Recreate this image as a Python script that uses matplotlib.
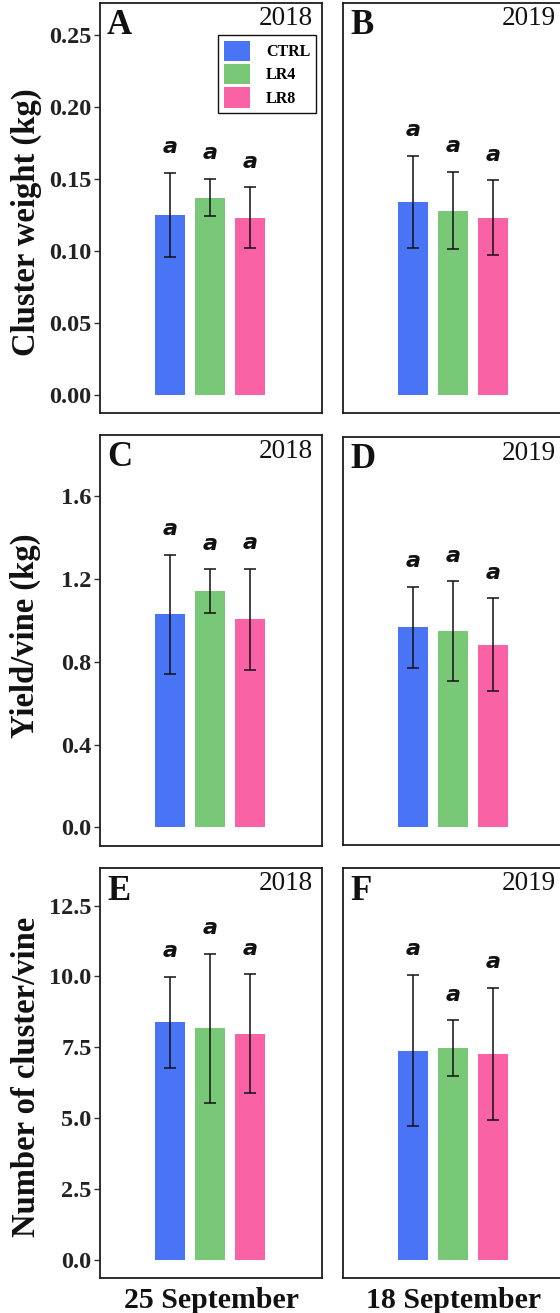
import matplotlib
matplotlib.use("Agg")
import matplotlib.pyplot as plt
from matplotlib.patches import Patch

# ---------------- data ----------------
treatments = ["CTRL", "LR4", "LR8"]
colors = ["#4a74f6", "#78c878", "#fa62a6"]

cw_2018 = [0.125, 0.137, 0.123]
cw_2018_err = [0.029, 0.013, 0.021]
cw_2019 = [0.134, 0.128, 0.123]
cw_2019_err = [0.032, 0.027, 0.026]

yv_2018 = [1.03, 1.14, 1.005]
yv_2018_err = [0.287, 0.106, 0.243]
yv_2019 = [0.97, 0.95, 0.885]
yv_2019_err = [0.197, 0.243, 0.225]

nc_2018 = [8.38, 8.17, 7.98]
nc_2018_err = [1.6, 2.62, 2.1]
nc_2019 = [7.38, 7.47, 7.27]
nc_2019_err = [2.67, 0.98, 2.32]

sig_letters = ["a", "a", "a"]

panel_letters = ["A", "B", "C", "D", "E", "F"]
years = ["2018", "2019"]
ylabels = ["Cluster weight (kg)", "Yield/vine (kg)", "Number of cluster/vine"]
xlabels = ["25 September", "18 September"]

row_ticks = [
    [0.00, 0.05, 0.10, 0.15, 0.20, 0.25],
    [0.0, 0.4, 0.8, 1.2, 1.6],
    [0.0, 2.5, 5.0, 7.5, 10.0, 12.5],
]
row_ticklabels = [
    ["0.00", "0.05", "0.10", "0.15", "0.20", "0.25"],
    ["0.0", "0.4", "0.8", "1.2", "1.6"],
    ["0.0", "2.5", "5.0", "7.5", "10.0", "12.5"],
]
row_ylim = [(-0.0125, 0.272), (-0.09, 1.895), (-0.646, 13.83)]

data = [
    [(cw_2018, cw_2018_err), (cw_2019, cw_2019_err)],
    [(yv_2018, yv_2018_err), (yv_2019, yv_2019_err)],
    [(nc_2018, nc_2018_err), (nc_2019, nc_2019_err)],
]

# ---------------- layout ----------------
W, H = 560, 1313
fig = plt.figure(figsize=(W / 100, H / 100), dpi=100)
serif = ["Liberation Serif", "DejaVu Serif"]

col_left = [100, 343]
ax_w = 222
row_top = [[3, 3], [435, 437], [868, 868]]
row_bot = [[413, 413], [846, 845], [1278, 1278]]
ylabel_pos = [(26, 222), (25, 636), (27, 1077)]

frame_col = "#1e1e1e"

for r in range(3):
    for c in range(2):
        l = col_left[c]
        t = row_top[r][c]
        b = row_bot[r][c]
        ax = fig.add_axes([l / W, 1 - b / H, ax_w / W, (b - t) / H])
        vals, errs = data[r][c]
        xs = list(range(len(treatments)))
        ax.bar(xs, vals, width=0.75, color=colors, edgecolor="none", zorder=2)
        ax.errorbar(xs, vals, yerr=errs, fmt="none", ecolor="#111111",
                    elinewidth=1.1, capsize=4.5, capthick=1.1, zorder=3)
        for x, v, e, s in zip(xs, vals, errs, sig_letters):
            ax.annotate(s, (x, v + e), xytext=(0, 18.5), textcoords="offset points",
                        ha="center", va="center", fontsize=16, fontweight="bold",
                        fontstyle="italic", family=["DejaVu Sans"], color="#111111")
        ax.set_xlim(-1.75, 3.8)
        ax.set_ylim(*row_ylim[r])
        ax.set_xticks([])
        if c == 0:
            ax.set_yticks(row_ticks[r])
            ax.set_yticklabels(row_ticklabels[r], family=serif, fontsize=17.5,
                               fontweight="bold", color="#222222")
            ax.tick_params(axis="y", length=4, width=1, pad=2, colors="#333333",
                           labelcolor="#222222")
        else:
            ax.set_yticks([])
        for sp in ax.spines.values():
            sp.set_color(frame_col)
            sp.set_linewidth(1.3)
        ax.text(1 - 9 / ax_w, 1 - 16 / (b - t), years[c], transform=ax.transAxes,
                ha="right", va="center", fontsize=19.5, family=serif, color="#111111")
        ax.text(7 / ax_w, 1 - 23 / (b - t), panel_letters[r * 2 + c],
                transform=ax.transAxes, ha="left", va="center", fontsize=25,
                family=serif, fontweight="bold", color="#111111")
        if r == 0 and c == 0:
            handles = [Patch(facecolor=col, edgecolor="none", label=lab)
                       for col, lab in zip(colors, treatments)]
            leg = ax.legend(handles=handles, loc="upper right",
                            bbox_to_anchor=(0.973, 0.922), borderaxespad=0,
                            fancybox=False, edgecolor="#111111", framealpha=1,
                            prop={"family": serif, "size": 11.5, "weight": "bold"},
                            handlelength=1.65, handleheight=1.6, labelspacing=0.17,
                            handletextpad=1.0, borderpad=0.35)
            leg.get_frame().set_linewidth(1.0)
        if r == 2:
            ax.text(0.5, -23 / (b - t), xlabels[c], transform=ax.transAxes,
                    ha="center", va="center", fontsize=21.5, fontweight="bold",
                    family=serif, color="#111111")

for lab, (x, y) in zip(ylabels, ylabel_pos):
    fig.text(x / W, 1 - y / H, lab, rotation=90, ha="center", va="center",
             fontsize=23.5, fontweight="bold", family=serif, color="#111111")

fig.savefig("out.png", dpi=100)
